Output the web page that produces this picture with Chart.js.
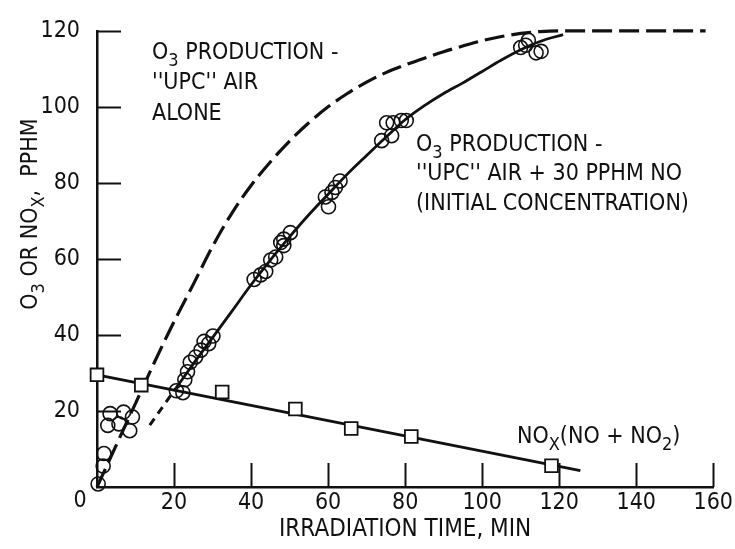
<!DOCTYPE html>
<html>
<head>
<meta charset="utf-8">
<title>O3 and NOx vs irradiation time</title>
<script src="https://cdn.jsdelivr.net/npm/chart.js@4.4.1/dist/chart.umd.min.js"></script>
<style>
  html, body { margin: 0; padding: 0; background: #ffffff; }
  #wrap { position: relative; width: 735px; height: 549px; }
</style>
</head>
<body>
<div id="wrap"><canvas id="ozoneChart"></canvas></div>
<script>
var FONT_FAMILY = '"Liberation Sans Narrow", "DejaVu Sans Condensed", "Roboto", sans-serif';
var INK = "#111111";

// Axis ticks
var xTicks = [0, 20, 40, 60, 80, 100, 120, 140, 160];
var yTicks = [0, 20, 40, 60, 80, 100, 120];

// O3 measurements (open circles)
var o3Time = [0.3, 1.6, 1.8, 2.8, 3.4, 5.7, 6.9, 8.5, 9.2,
  20.6, 22.3, 22.8, 23.5, 24.2, 25.6, 27.0, 27.8, 29.0, 30.1,
  40.8, 42.5, 43.8, 45.1, 46.4, 47.7, 48.5, 48.5, 50.2,
  59.3, 60.1, 61.0, 61.9, 63.1,
  73.9, 75.2, 76.5, 76.9, 79.0, 80.3,
  110.0, 111.3, 112.0, 114.0, 115.3];
var o3Conc = [0.8, 5.5, 8.8, 16.2, 19.3, 16.6, 19.7, 14.8, 18.4,
  25.3, 24.8, 28.2, 30.3, 32.8, 34.2, 36.0, 38.3, 37.7, 39.7,
  54.6, 55.8, 56.7, 59.7, 60.5, 64.3, 65.2, 63.5, 66.9,
  76.3, 73.7, 77.5, 78.8, 80.5,
  91.1, 95.8, 92.4, 95.8, 96.4, 96.4,
  115.6, 116.2, 117.5, 114.2, 114.6];

// NOx measurements (squares) and fitted line
var noxTime = [0, 11.5, 32.5, 51.5, 66.0, 81.6, 118.0];
var noxConc = [29.5, 26.8, 25.0, 20.5, 15.4, 13.3, 5.6];
var noxFitTime = [0, 125.5];
var noxFitConc = [29.5, 4.3];

// O3 curve, "UPC" air alone (dashed)
var aloneTime = [0, 5, 10, 15, 20, 25, 30, 35, 40, 45, 50, 55, 60, 65, 70, 75, 80, 85, 90, 95, 100, 105, 110, 115, 120, 158];
var aloneConc = [0, 11, 22, 33, 43.5, 53.3, 63.3, 72, 79.3, 85.5, 91, 95.8, 100, 103.5, 106.5, 109, 111, 112.8, 114.5, 116, 117.4, 118.5, 119.3, 119.8, 120, 120];

// O3 curve, "UPC" air + 30 PPHM NO (dashed start, then solid)
var withNoStartTime = [13.7, 20.5];
var withNoStartConc = [16.3, 26];
var withNoTime = [20.5, 25, 30, 35, 40, 45, 50, 55, 60, 65, 70, 75, 80, 85, 90, 95, 100, 105, 110, 115, 121];
var withNoConc = [26, 32.4, 39.3, 46.2, 53.2, 59.7, 65.8, 71.6, 77, 82.3, 87.2, 92, 96.6, 100.3, 103.5, 106.3, 109.3, 112.3, 115, 117.2, 119];

function pts(xs, ys) {
  return xs.map(function (x, i) {
    return { x: x, y: ys[i] };
  });
}

// text with subscripts: parts = [[text, isSub], ...]
function drawRich(ctx, parts, x, y, size, align) {
  var main = size + "px " + FONT_FAMILY;
  var sub = Math.round(size * 0.78) + "px " + FONT_FAMILY;
  var widths = parts.map(function (p) {
    ctx.font = p[1] ? sub : main;
    return ctx.measureText(p[0]).width;
  });
  var total = widths.reduce(function (a, b) { return a + b; }, 0);
  var cx = align === "center" ? x - total / 2 : x;
  ctx.textAlign = "left";
  ctx.textBaseline = "alphabetic";
  parts.forEach(function (p, i) {
    ctx.font = p[1] ? sub : main;
    ctx.fillText(p[0], cx, p[1] ? y + size * 0.32 : y);
    cx += widths[i];
  });
}

// Inward ticks, axis titles and curve labels
var figureDecor = {
  id: "figureDecor",
  afterDraw: function (chart) {
    var ctx = chart.ctx;
    var xs = chart.scales.x;
    var ys = chart.scales.y;
    ctx.save();
    ctx.strokeStyle = INK;
    ctx.fillStyle = INK;
    ctx.lineWidth = 2;
    xTicks.forEach(function (v) {
      if (v === 0) return;
      var px = Math.round(xs.getPixelForValue(v)) + 0.5;
      ctx.beginPath();
      ctx.moveTo(px, xs.top);
      ctx.lineTo(px, xs.top - 24);
      ctx.stroke();
    });
    yTicks.forEach(function (v) {
      if (v === 0) return;
      var py = Math.round(ys.getPixelForValue(v)) + 0.5;
      ctx.beginPath();
      ctx.moveTo(ys.right, py);
      ctx.lineTo(ys.right + 24, py);
      ctx.stroke();
    });

    // shared origin label
    ctx.font = "23px " + FONT_FAMILY;
    ctx.textAlign = "center";
    ctx.textBaseline = "top";
    ctx.fillText("0", xs.left - 17, xs.top + 3);

    // x axis title
    drawRich(ctx, [["IRRADIATION TIME, MIN", 0]], (xs.left + xs.right) / 2, 536, 24, "center");

    // y axis title
    ctx.save();
    ctx.translate(29, 214);
    ctx.rotate(-Math.PI / 2);
    drawRich(ctx, [["O", 0], ["3", 1], [" OR NO", 0], ["X", 1], [",  PPHM", 0]], 0, 8, 23, "center");
    ctx.restore();

    // curve labels
    drawRich(ctx, [["O", 0], ["3", 1], [" PRODUCTION -", 0]], 152, 59, 23, "left");
    drawRich(ctx, [["''UPC'' AIR", 0]], 152, 89, 23, "left");
    drawRich(ctx, [["ALONE", 0]], 152, 120, 23, "left");

    drawRich(ctx, [["O", 0], ["3", 1], [" PRODUCTION -", 0]], 416, 151, 23, "left");
    drawRich(ctx, [["''UPC'' AIR + 30 PPHM NO", 0]], 416, 180, 23, "left");
    drawRich(ctx, [["(INITIAL CONCENTRATION)", 0]], 416, 210, 23, "left");

    drawRich(ctx, [["NO", 0], ["X", 1], ["(NO + NO", 0], ["2", 1], [")", 0]], 517, 443, 23, "left");
    ctx.restore();
  },
};

var ctx = document.getElementById("ozoneChart").getContext("2d");
var data = {
  datasets: [
    {
      label: "O3 measured",
      data: pts(o3Time, o3Conc),
      showLine: false,
      pointStyle: "circle",
      pointRadius: 7,
      borderColor: INK,
      borderWidth: 1.6,
      backgroundColor: "rgba(0,0,0,0)",
      clip: false,
      order: 0,
    },
    {
      label: "NOx measured",
      data: pts(noxTime, noxConc),
      showLine: false,
      pointStyle: "rect",
      pointRadius: 9,
      borderColor: INK,
      borderWidth: 1.8,
      backgroundColor: "#ffffff",
      clip: false,
      order: 0,
    },
    {
      label: "NOx fit",
      data: pts(noxFitTime, noxFitConc),
      showLine: true,
      pointRadius: 0,
      borderColor: INK,
      borderWidth: 3,
      clip: false,
      order: 1,
    },
    {
      label: "UPC air alone",
      data: pts(aloneTime, aloneConc),
      showLine: true,
      pointRadius: 0,
      borderColor: INK,
      borderWidth: 3.2,
      borderDash: [20, 7],
      cubicInterpolationMode: "monotone",
      clip: false,
      order: 1,
    },
    {
      label: "UPC air + NO start",
      data: pts(withNoStartTime, withNoStartConc),
      showLine: true,
      pointRadius: 0,
      borderColor: INK,
      borderWidth: 3,
      borderDash: [8, 6],
      clip: false,
      order: 1,
    },
    {
      label: "UPC air + NO",
      data: pts(withNoTime, withNoConc),
      showLine: true,
      pointRadius: 0,
      borderColor: INK,
      borderWidth: 2.8,
      cubicInterpolationMode: "monotone",
      clip: false,
      order: 1,
    },
  ],
};
var tickFont = { family: FONT_FAMILY, size: 23 };
var options = {
  responsive: true,
  maintainAspectRatio: false,
  animation: false,
  layout: { padding: { top: 17, right: 18, left: 0, bottom: 0 } },
  plugins: {
    legend: { display: false },
    tooltip: { enabled: false },
  },
  scales: {
    x: {
      type: "linear",
      min: 0,
      max: 160,
      afterBuildTicks: function (scale) {
        scale.ticks = xTicks.map(function (v) { return { value: v }; });
      },
      afterFit: function (scale) { scale.height = 62; },
      ticks: {
        color: INK,
        font: tickFont,
        padding: 2,
        maxRotation: 0,
        callback: function (v) { return v === 0 ? "" : v; },
      },
      grid: { display: false, drawTicks: false },
      border: { display: true, color: INK, width: 2.5 },
    },
    y: {
      type: "linear",
      min: 0,
      max: 120,
      afterBuildTicks: function (scale) {
        scale.ticks = yTicks.map(function (v) { return { value: v }; });
      },
      afterFit: function (scale) { scale.width = 97; },
      ticks: {
        color: INK,
        font: tickFont,
        padding: 17,
        callback: function (v) { return v === 0 ? "" : v; },
      },
      grid: { display: false, drawTicks: false },
      border: { display: true, color: INK, width: 2.5 },
    },
  },
};
var ozoneChart = new Chart(ctx, {
  type: "scatter",
  data: data,
  options: options,
  plugins: [figureDecor],
});
</script>
</body>
</html>
